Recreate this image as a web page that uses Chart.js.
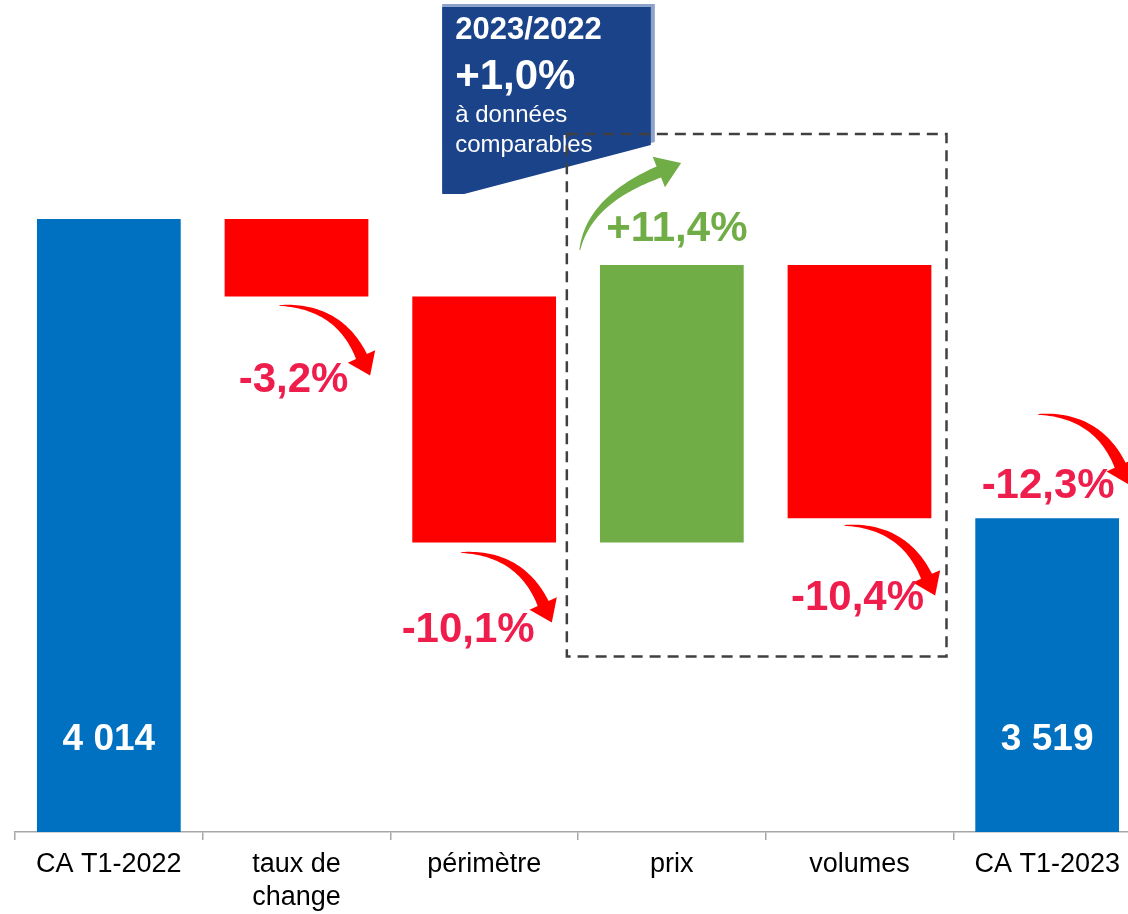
<!DOCTYPE html>
<html lang="fr">
<head>
    <meta charset="UTF-8">
    <title>CA T1-2023</title>
    <script src="https://cdn.jsdelivr.net/npm/chart.js"></script>
    <style>
        html, body { margin:0; padding:0; background:#fff; }
        #wrap { width:1128px; height:914px; overflow:hidden; position:relative; }
        #chart { position:absolute; left:0; top:0; }
    </style>
</head>
<body>
<div id="wrap">
    <canvas id="chart" width="1160" height="914"></canvas>
</div>

<script>
    // data (millions)
    const categories = ['CA T1-2022', ['taux de', 'change'], 'périmètre', 'prix', 'volumes', 'CA T1-2023'];
    const barLow  = [3000, 3886, 3479, 3479, 3519, 3000];
    const barHigh = [4014, 4014, 3886, 3938, 3938, 3519];
    const totalLabels = ['4 014', '', '', '', '', '3 519'];
    const changeLabels = ['-3,2%', '-10,1%', '+11,4%', '-10,4%', '-12,3%'];
    const axisMin = 3000;
    const axisMax = 4350;

    const BLUE = '#0070C0', RED = '#FF0000', GREEN = '#70AD47', PINK = '#EE1D4C';
    const FONT = '"Liberation Sans", Arial, sans-serif';
    const barColors = [BLUE, RED, RED, GREEN, RED, BLUE];

    // curved tapered arrow (quadratic), thin at start, head at end
    function curvedArrow(ctx, x0, y0, cx, cy, x1, y1, w, headLen, headW, color) {
        const N = 40, L = [], R = [];
        let nx = 0, ny = 0, dx = 0, dy = 0;
        for (let i = 0; i <= N; i++) {
            const t = i / N;
            const px = (1-t)*(1-t)*x0 + 2*(1-t)*t*cx + t*t*x1;
            const py = (1-t)*(1-t)*y0 + 2*(1-t)*t*cy + t*t*y1;
            dx = 2*(1-t)*(cx-x0) + 2*t*(x1-cx);
            dy = 2*(1-t)*(cy-y0) + 2*t*(y1-cy);
            const len = Math.hypot(dx, dy);
            dx /= len; dy /= len;
            nx = -dy; ny = dx;
            const half = 0.4 + (w/2 - 0.4) * Math.pow(t, 0.9);
            L.push([px + nx*half, py + ny*half]);
            R.push([px - nx*half, py - ny*half]);
        }
        ctx.save();
        ctx.fillStyle = color;
        ctx.beginPath();
        ctx.moveTo(L[0][0], L[0][1]);
        L.forEach(p => ctx.lineTo(p[0], p[1]));
        ctx.lineTo(x1 + nx*headW/2, y1 + ny*headW/2);
        ctx.lineTo(x1 + dx*headLen, y1 + dy*headLen);
        ctx.lineTo(x1 - nx*headW/2, y1 - ny*headW/2);
        for (let i = R.length - 1; i >= 0; i--) ctx.lineTo(R[i][0], R[i][1]);
        ctx.closePath();
        ctx.fill();
        ctx.restore();
    }

    const overlay = {
        id: 'overlay',
        afterDatasetsDraw(chart) {
            const ctx = chart.ctx;
            const xs = chart.scales.x, ys = chart.scales.y;
            const X = (i, d) => xs.getPixelForValue(i) + d;
            const Y = (v, d) => ys.getPixelForValue(v) + d;

            // totals inside the blue bars
            ctx.save();
            ctx.fillStyle = '#fff';
            ctx.textAlign = 'center';
            ctx.textBaseline = 'alphabetic';
            ctx.font = 'bold 37px ' + FONT;
            totalLabels.forEach((t, i) => { if (t) ctx.fillText(t, X(i, 0), Y(axisMin, -82)); });
            ctx.restore();

            // callout box 2023/2022
            const bl = X(2, -42), br = X(3, -21), bt = Y(axisMax, -9);
            ctx.save();
            ctx.fillStyle = '#8EA3CC';
            ctx.beginPath();
            ctx.moveTo(bl, bt - 3); ctx.lineTo(br + 4, bt - 3); ctx.lineTo(br + 4, bt + 135);
            ctx.lineTo(bl + 22, bt + 184); ctx.lineTo(bl, bt + 184); ctx.closePath(); ctx.fill();
            ctx.fillStyle = '#1B438A';
            ctx.beginPath();
            ctx.moveTo(bl, bt); ctx.lineTo(br, bt); ctx.lineTo(br, bt + 138);
            ctx.lineTo(bl + 22, bt + 187); ctx.lineTo(bl, bt + 187); ctx.closePath(); ctx.fill();
            ctx.fillStyle = '#fff';
            ctx.textAlign = 'left';
            ctx.font = 'bold 31px ' + FONT;
            ctx.fillText('2023/2022', bl + 13, bt + 32);
            ctx.font = 'bold 42px ' + FONT;
            ctx.fillText('+1,0%', bl + 13, bt + 82);
            ctx.font = '24px ' + FONT;
            ctx.fillText('à données', bl + 13, bt + 115);
            ctx.fillText('comparables', bl + 13, bt + 145);
            ctx.restore();

            // dashed frame around prix / volumes
            ctx.save();
            ctx.strokeStyle = '#404040';
            ctx.lineWidth = 2.5;
            ctx.setLineDash([11, 7]);
            ctx.strokeRect(X(3, -105), Y(3938, -131), X(4, 87) - X(3, -105), Y(3479, 114) - Y(3938, -131));
            ctx.restore();

            // arrows
            const redArrow = (sx, sy) => curvedArrow(ctx, sx, sy, sx + 59, sy, sx + 82, sy + 51, 12, 21, 30, RED);
            redArrow(X(1, -17), Y(3886, 9));
            redArrow(X(2, -23), Y(3479, 10));
            redArrow(X(4, -15), Y(3519, 7));
            redArrow(X(5, -9), Y(3519, -104));
            const gx = X(3, -92), gy = Y(3938, -15);
            curvedArrow(ctx, gx, gy, gx + 9, gy - 50, gx + 79, gy - 78, 12, 24, 33, GREEN);

            // change labels
            ctx.save();
            ctx.textAlign = 'center';
            ctx.font = 'bold 42px ' + FONT;
            ctx.fillStyle = PINK;
            ctx.fillText(changeLabels[0], X(1, -3), Y(3886, 96));
            ctx.fillText(changeLabels[1], X(2, -16), Y(3479, 100));
            ctx.fillText(changeLabels[3], X(4, -2), Y(3519, 92));
            ctx.fillText(changeLabels[4], X(5, 1), Y(3519, -20));
            ctx.fillStyle = GREEN;
            ctx.fillText(changeLabels[2], X(3, 5), Y(3938, -24));
            ctx.restore();
        }
    };

    new Chart(document.getElementById('chart'), {
        type: 'bar',
        data: {
            labels: categories,
            datasets: [{
                data: barLow.map((l, i) => [l, barHigh[i]]),
                backgroundColor: barColors,
                borderWidth: 0,
                borderSkipped: false,
                barPercentage: 0.766,
                categoryPercentage: 1
            }]
        },
        options: {
            responsive: false,
            animation: false,
            devicePixelRatio: 1,
            layout: { padding: { top: 16, left: 15, right: 19, bottom: 0 } },
            plugins: { legend: { display: false }, tooltip: { enabled: false } },
            scales: {
                y: { display: false, min: axisMin, max: axisMax },
                x: {
                    afterFit: s => { s.height = 82; },
                    border: { color: '#A6A6A6', width: 1.5 },
                    grid: { drawOnChartArea: false, drawTicks: true, tickLength: 8, color: '#A6A6A6', lineWidth: 1.5 },
                    ticks: {
                        color: '#000',
                        padding: 8,
                        maxRotation: 0,
                        autoSkip: false,
                        font: { family: FONT, size: 27, lineHeight: 1.22 }
                    }
                }
            }
        },
        plugins: [overlay]
    });
</script>
</body>
</html>
